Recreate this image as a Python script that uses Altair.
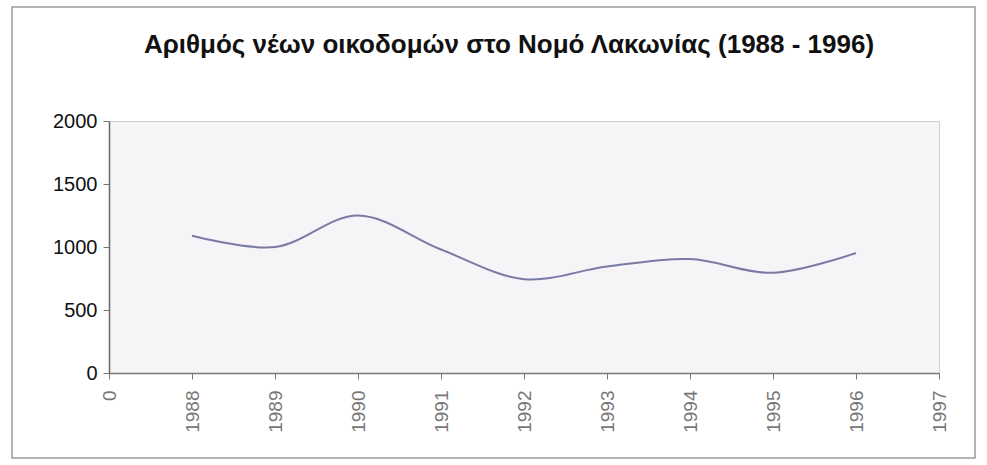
import altair as alt
import pandas as pd

categories = ["0", "1988", "1989", "1990", "1991", "1992", "1993", "1994", "1995", "1996", "1997"]
years = ["1988", "1989", "1990", "1991", "1992", "1993", "1994", "1995", "1996"]
buildings = [1090, 1000, 1250, 980, 745, 845, 905, 795, 952]
title_text = "Αριθμός νέων οικοδομών στο Νομό Λακωνίας (1988 - 1996)"

df = pd.DataFrame({"year": years, "value": buildings})

FONT = "Liberation Sans"

frame = alt.Chart(pd.DataFrame({"a": [0]})).mark_rect(
    fill=None, stroke="#9a9a9a", strokeWidth=1.5
).encode(
    x=alt.value(-97), x2=alt.value(866), y=alt.value(-114), y2=alt.value(337)
)

title = alt.Chart(pd.DataFrame({"t": [title_text]})).mark_text(
    font=FONT, fontSize=26, fontWeight="bold", color="#111111",
    align="center", baseline="middle"
).encode(
    text="t:N", x=alt.value(400), y=alt.value(-76)
)

line = alt.Chart(df).mark_line(
    interpolate="catmull-rom", color="#7b7aa6", strokeWidth=2
).encode(
    x=alt.X("year:O", scale=alt.Scale(domain=categories, type="point", padding=0),
            axis=alt.Axis(title=None, labelAngle=-90, labelColor="#777777",
                          labelFontSize=19, labelFont=FONT, labelPadding=11,
                          tickColor="#777777", tickSize=6, domainColor="#777777",
                          domainWidth=1.5, labelAlign="right", labelBaseline="middle")),
    y=alt.Y("value:Q", scale=alt.Scale(domain=[0, 2000]),
            axis=alt.Axis(title=None, values=[0, 500, 1000, 1500, 2000], grid=False,
                          format="d",
                          labelColor="#111111", labelFontSize=20, labelFont=FONT,
                          tickColor="#777777", tickSize=6, domainColor="#666666",
                          domainWidth=1.5, labelPadding=6))
)

chart = alt.layer(frame, title, line).properties(
    width=830, height=252,
    background="white",
    autosize=alt.AutoSizeParams(type="none"),
    padding={"left": 109, "top": 121, "right": 48, "bottom": 92},
).configure_view(
    stroke="#cfcfcf", fill="#f6f4f6"
)

chart.save("out.html", embed_options={"renderer": "svg", "actions": False})
